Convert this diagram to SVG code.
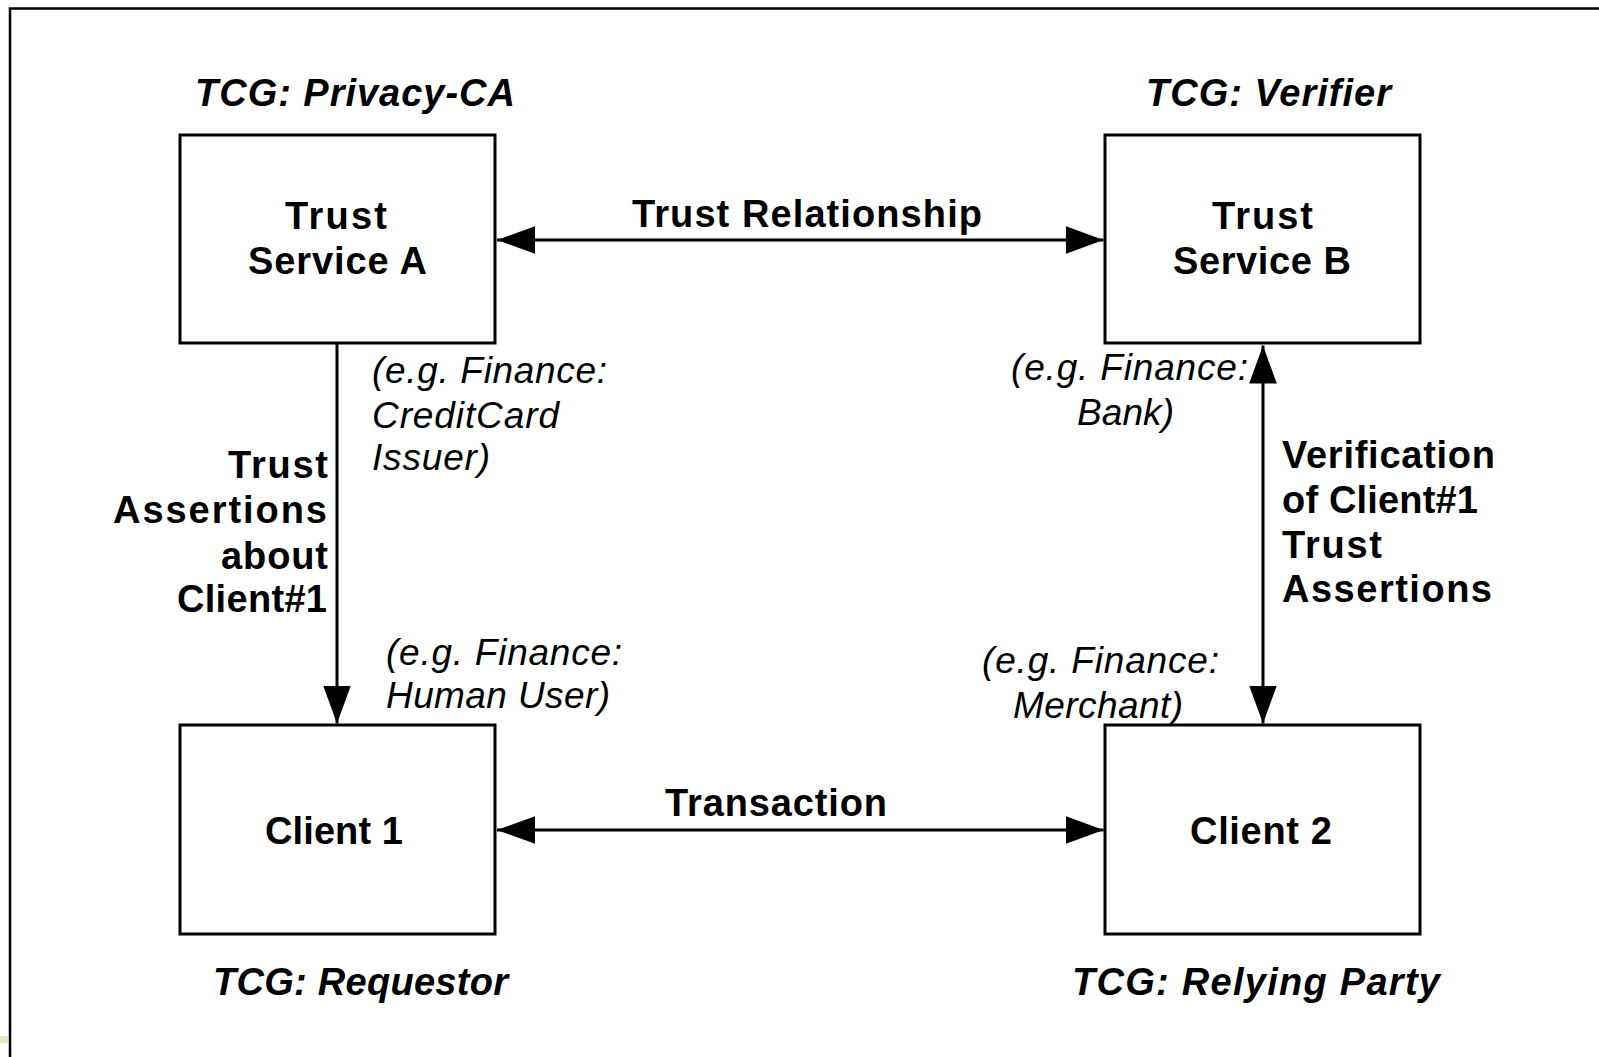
<svg xmlns="http://www.w3.org/2000/svg" width="1599" height="1057" viewBox="0 0 1599 1057">
  <style>
    text { font-family: "Liberation Sans", Arial, sans-serif; fill: #000; }
    .role { font-size: 38px; font-weight: bold; font-style: italic; }
    .name { font-size: 38px; font-weight: bold; }
    .lbl  { font-size: 38px; font-weight: bold; }
    .note { font-size: 37px; font-style: italic; }
    .box  { fill: #fff; stroke: #000; stroke-width: 3; }
    .wire { fill: none; stroke: #000; stroke-width: 3; }
  </style>
  <defs>
    <marker id="head" markerUnits="userSpaceOnUse" markerWidth="38" markerHeight="28"
            viewBox="0 0 37 27" refX="37" refY="13.5" orient="auto-start-reverse">
      <path d="M0,0 L37,13.5 L0,27 Z" fill="#000"/>
    </marker>
  </defs>

  <rect width="1599" height="1057" fill="#fff"/>
  <!-- outer frame (right and bottom edges run past the page) -->
  <rect x="10" y="8.5" width="1620" height="1100" fill="none" stroke="#000" stroke-width="2.5"/>
  <rect x="0" y="1036" width="8" height="7" fill="#e6d8a6" opacity="0.7"/>

  <!-- connectors -->
  <g id="connectors">
    <line class="wire" x1="497" y1="240" x2="1103.5" y2="240" marker-start="url(#head)" marker-end="url(#head)"/>
    <line class="wire" x1="497" y1="830" x2="1103.5" y2="830" marker-start="url(#head)" marker-end="url(#head)"/>
    <line class="wire" x1="337" y1="344" x2="337" y2="723.5" marker-end="url(#head)"/>
    <line class="wire" x1="1263" y1="345.5" x2="1263" y2="723.5" marker-start="url(#head)" marker-end="url(#head)"/>

    <text class="lbl" x="632" y="227" textLength="350">Trust Relationship</text>
    <text class="lbl" x="665" y="816" textLength="222">Transaction</text>

    <g id="label-assertions">
      <text class="lbl" x="228" y="478" textLength="100">Trust</text>
      <text class="lbl" x="113" y="523" textLength="214">Assertions</text>
      <text class="lbl" x="221" y="569" textLength="107">about</text>
      <text class="lbl" x="177" y="612" textLength="150">Client#1</text>
    </g>
    <g id="label-verification">
      <text class="lbl" x="1282" y="468" textLength="213">Verification</text>
      <text class="lbl" x="1282" y="513" textLength="196">of Client#1</text>
      <text class="lbl" x="1282" y="558" textLength="100">Trust</text>
      <text class="lbl" x="1282" y="602" textLength="210">Assertions</text>
    </g>
  </g>

  <!-- Trust Service A -->
  <g id="trust-service-a">
    <rect class="box" x="180" y="135" width="315" height="208"/>
    <text class="name" x="285" y="229" textLength="102">Trust</text>
    <text class="name" x="248" y="274" textLength="179">Service A</text>
    <text class="role" x="195" y="106" textLength="320">TCG: Privacy-CA</text>
    <text class="note" x="372" y="383" textLength="235">(e.g. Finance:</text>
    <text class="note" x="372" y="428" textLength="187">CreditCard</text>
    <text class="note" x="372" y="470" textLength="118">Issuer)</text>
  </g>

  <!-- Trust Service B -->
  <g id="trust-service-b">
    <rect class="box" x="1105" y="135" width="315" height="208"/>
    <text class="name" x="1212" y="229" textLength="101">Trust</text>
    <text class="name" x="1173" y="274" textLength="178">Service B</text>
    <text class="role" x="1146" y="106" textLength="245">TCG: Verifier</text>
    <text class="note" x="1011" y="380" textLength="237">(e.g. Finance:</text>
    <text class="note" x="1077" y="425" textLength="97">Bank)</text>
  </g>

  <!-- Client 1 -->
  <g id="client-1">
    <rect class="box" x="180" y="725" width="315" height="209"/>
    <text class="name" x="265" y="844" textLength="138">Client 1</text>
    <text class="role" x="213" y="995" textLength="295">TCG: Requestor</text>
    <text class="note" x="386" y="665" textLength="236">(e.g. Finance:</text>
    <text class="note" x="386" y="708" textLength="224">Human User)</text>
  </g>

  <!-- Client 2 -->
  <g id="client-2">
    <rect class="box" x="1105" y="725" width="315" height="209"/>
    <text class="name" x="1190" y="844" textLength="142">Client 2</text>
    <text class="role" x="1072" y="995" textLength="368">TCG: Relying Party</text>
    <text class="note" x="982" y="673" textLength="237">(e.g. Finance:</text>
    <text class="note" x="1013" y="718" textLength="170">Merchant)</text>
  </g>
</svg>
